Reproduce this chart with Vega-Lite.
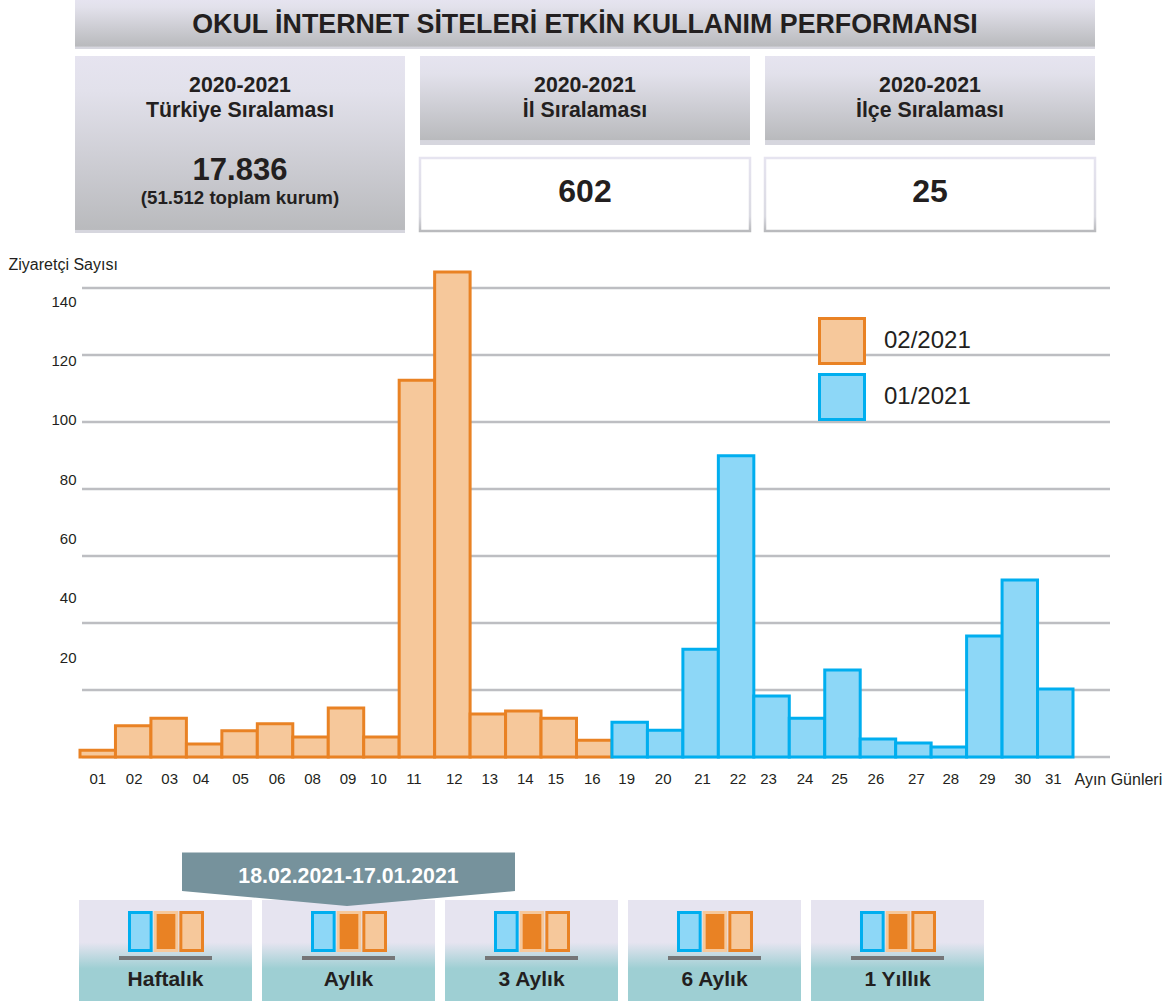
{
"$schema":"https://vega.github.io/schema/vega-lite/v6.json",
"width":1172,"height":1005,"padding":0,"autosize":{"type":"none"},
"background":"white",
"config":{"view":{"stroke":null},"font":"Liberation Sans","text":{"font":"Liberation Sans","color":"#231F20","fontWeight":"bold"}},
"resolve":{"scale":{"x":"independent","y":"independent","fill":"independent","stroke":"independent","color":"independent","xOffset":"independent"},"axis":{"x":"independent","y":"independent"}},
"layer":[
{"data":{"values":[{"baslik":"OKUL İNTERNET SİTELERİ ETKİN KULLANIM PERFORMANSI"}]},
 "mark":{"type":"rect","fill":{"gradient":"linear","x1":0,"y1":0,"x2":0,"y2":1,"stops":[{"offset":0,"color":"#E6E4F0"},{"offset":0.15,"color":"#E2E1EB"},{"offset":0.94,"color":"#B9BABD"},{"offset":0.96,"color":"#D6D6DE"},{"offset":1,"color":"#D6D6DE"}]}},
 "encoding":{"x":{"field":"baslik","type":"nominal","axis":null,"scale":{"type":"band","range":[75,1095],"paddingInner":0,"paddingOuter":0}},
 "y":{"field":"baslik","type":"nominal","axis":null,"scale":{"type":"band","range":[0,49],"paddingInner":0,"paddingOuter":0}}}},
{"data":{"values":[{"baslik":"OKUL İNTERNET SİTELERİ ETKİN KULLANIM PERFORMANSI"}]},
 "mark":{"type":"text","fontSize":26.8,"baseline":"middle"},
 "encoding":{"text":{"field":"baslik"},"x":{"field":"baslik","type":"nominal","axis":null,"scale":{"type":"band","range":[75,1095],"paddingInner":0,"paddingOuter":0}},
 "y":{"field":"baslik","type":"nominal","axis":null,"scale":{"type":"band","range":[0,49],"paddingInner":0,"paddingOuter":0}}}},
{"data":{"values":[{"panel":"Türkiye"}]},
 "mark":{"type":"rect","fill":{"gradient":"linear","x1":0,"y1":0,"x2":0,"y2":1,"stops":[{"offset":0,"color":"#E6E4F0"},{"offset":0.2,"color":"#E2E1EB"},{"offset":0.98,"color":"#B9BABD"},{"offset":0.985,"color":"#D6D6DE"},{"offset":1,"color":"#D6D6DE"}]}},
 "encoding":{"x":{"field":"panel","type":"nominal","axis":null,"scale":{"type":"band","domain":["Türkiye","İl","İlçe"],"range":[75,1095],"paddingInner":0.0435,"paddingOuter":0}},
 "y":{"field":"panel","type":"nominal","axis":null,"scale":{"type":"band","range":[56,233],"paddingInner":0,"paddingOuter":0}}}},
{"data":{"values":[{"panel":"İl"},{"panel":"İlçe"}]},
 "mark":{"type":"rect","fill":{"gradient":"linear","x1":0,"y1":0,"x2":0,"y2":1,"stops":[{"offset":0,"color":"#E6E4F0"},{"offset":0.2,"color":"#E2E1EB"},{"offset":0.94,"color":"#B9BABD"},{"offset":0.95,"color":"#D6D6DE"},{"offset":1,"color":"#D6D6DE"}]}},
 "encoding":{"x":{"field":"panel","type":"nominal","axis":null,"scale":{"type":"band","domain":["Türkiye","İl","İlçe"],"range":[75,1095],"paddingInner":0.0435,"paddingOuter":0}},
 "y":{"datum":"baslik","type":"nominal","axis":null,"scale":{"type":"band","domain":["baslik"],"range":[56,145],"paddingInner":0,"paddingOuter":0}}}},
{"data":{"values":[{"panel":"İl"},{"panel":"İlçe"}]},
 "mark":{"type":"rect","fill":"white","strokeWidth":2.5,"stroke":{"gradient":"linear","x1":0,"y1":0,"x2":0,"y2":1,"stops":[{"offset":0,"color":"#E6E4F0"},{"offset":0.8,"color":"#DADAE2"},{"offset":1,"color":"#B9BABD"}]}},
 "encoding":{"x":{"field":"panel","type":"nominal","axis":null,"scale":{"type":"band","domain":["Türkiye","İl","İlçe"],"range":[75,1095],"paddingInner":0.0435,"paddingOuter":0}},
 "y":{"datum":"deger","type":"nominal","axis":null,"scale":{"type":"band","domain":["deger"],"range":[158,231],"paddingInner":0,"paddingOuter":0}}}},
{"data":{"values":[{"panel":"Türkiye","satir":"yil","metin":"2020-2021"},{"panel":"Türkiye","satir":"ad","metin":"Türkiye Sıralaması"},{"panel":"İl","satir":"yil","metin":"2020-2021"},{"panel":"İl","satir":"ad","metin":"İl Sıralaması"},{"panel":"İlçe","satir":"yil","metin":"2020-2021"},{"panel":"İlçe","satir":"ad","metin":"İlçe Sıralaması"}]},
 "mark":{"type":"text","fontSize":21.3,"baseline":"middle"},
 "encoding":{"text":{"field":"metin"},"x":{"field":"panel","type":"nominal","axis":null,"scale":{"type":"band","domain":["Türkiye","İl","İlçe"],"range":[75,1095],"paddingInner":0.0435,"paddingOuter":0}},
 "y":{"field":"satir","type":"nominal","axis":null,"scale":{"type":"point","domain":["yil","ad"],"range":[86,111],"padding":0}}}},
{"data":{"values":[{"panel":"Türkiye","metin":"17.836"}]},
 "mark":{"type":"text","fontSize":31,"baseline":"middle"},
 "encoding":{"text":{"field":"metin"},"x":{"field":"panel","type":"nominal","axis":null,"scale":{"type":"band","domain":["Türkiye","İl","İlçe"],"range":[75,1095],"paddingInner":0.0435,"paddingOuter":0}},
 "y":{"datum":"sayi","type":"nominal","axis":null,"scale":{"type":"band","domain":["sayi"],"range":[170,172]}}}},
{"data":{"values":[{"panel":"Türkiye","metin":"(51.512 toplam kurum)"}]},
 "mark":{"type":"text","fontSize":18.7,"baseline":"middle"},
 "encoding":{"text":{"field":"metin"},"x":{"field":"panel","type":"nominal","axis":null,"scale":{"type":"band","domain":["Türkiye","İl","İlçe"],"range":[75,1095],"paddingInner":0.0435,"paddingOuter":0}},
 "y":{"datum":"toplam","type":"nominal","axis":null,"scale":{"type":"band","domain":["toplam"],"range":[197,199]}}}},
{"data":{"values":[{"panel":"İl","metin":"602"},{"panel":"İlçe","metin":"25"}]},
 "mark":{"type":"text","fontSize":32,"baseline":"middle"},
 "encoding":{"text":{"field":"metin"},"x":{"field":"panel","type":"nominal","axis":null,"scale":{"type":"band","domain":["Türkiye","İl","İlçe"],"range":[75,1095],"paddingInner":0.0435,"paddingOuter":0}},
 "y":{"datum":"sira","type":"nominal","axis":null,"scale":{"type":"band","domain":["sira"],"range":[191,193]}}}},
{"data":{"values":[{"cizgi":0},{"cizgi":20},{"cizgi":40},{"cizgi":60},{"cizgi":80},{"cizgi":100},{"cizgi":120},{"cizgi":140}]},
 "mark":{"type":"rule","stroke":"#BDBEC2","strokeWidth":2.5},
 "encoding":{"x":{"datum":0,"type":"quantitative","axis":null,"scale":{"domain":[0,1],"range":[82,1110]}},"x2":{"datum":1},
 "y":{"field":"cizgi","type":"quantitative","axis":null,"scale":{"domain":[0,145],"range":[757,271.25],"nice":false,"zero":false}}}},
{"data":{"values":[{"etiket":20},{"etiket":40},{"etiket":60},{"etiket":80},{"etiket":100},{"etiket":120},{"etiket":140}]},
 "mark":{"type":"point","opacity":0},
 "encoding":{"x":{"datum":0,"type":"quantitative","axis":null,"scale":{"domain":[0,1],"range":[82,1110]}},
 "y":{"field":"etiket","type":"quantitative","scale":{"domain":[20,140],"range":[657,301],"nice":false,"zero":false},
 "axis":{"values":[20,40,60,80,100,120,140],"domain":false,"ticks":false,"grid":false,"offset":-76,"labelPadding":0,"labelFontSize":15,"labelColor":"#231F20","labelFont":"Liberation Sans","title":"Ziyaretçi Sayısı","titleFont":"Liberation Sans","titleFontSize":16,"titleFontWeight":"normal","titleColor":"#231F20","titleAngle":0,"titleAlign":"left","titleBaseline":"middle","titleX":-68,"titleY":264}}}},
{"data":{"values":[
{"gun":"01","ziyaretci":2,"ay":"02/2021"},{"gun":"02","ziyaretci":9.3,"ay":"02/2021"},{"gun":"03","ziyaretci":11.6,"ay":"02/2021"},{"gun":"04","ziyaretci":3.9,"ay":"02/2021"},{"gun":"05","ziyaretci":7.8,"ay":"02/2021"},{"gun":"06","ziyaretci":9.9,"ay":"02/2021"},{"gun":"08","ziyaretci":6,"ay":"02/2021"},{"gun":"09","ziyaretci":14.6,"ay":"02/2021"},{"gun":"10","ziyaretci":6,"ay":"02/2021"},{"gun":"11","ziyaretci":112.5,"ay":"02/2021"},{"gun":"12","ziyaretci":144.8,"ay":"02/2021"},{"gun":"13","ziyaretci":12.8,"ay":"02/2021"},{"gun":"14","ziyaretci":13.7,"ay":"02/2021"},{"gun":"15","ziyaretci":11.6,"ay":"02/2021"},{"gun":"16","ziyaretci":5,"ay":"02/2021"},
{"gun":"19","ziyaretci":10.4,"ay":"01/2021"},{"gun":"20","ziyaretci":8,"ay":"01/2021"},{"gun":"21","ziyaretci":32.2,"ay":"01/2021"},{"gun":"22","ziyaretci":89.9,"ay":"01/2021"},{"gun":"23","ziyaretci":18.2,"ay":"01/2021"},{"gun":"24","ziyaretci":11.6,"ay":"01/2021"},{"gun":"25","ziyaretci":26,"ay":"01/2021"},{"gun":"26","ziyaretci":5.4,"ay":"01/2021"},{"gun":"27","ziyaretci":4.2,"ay":"01/2021"},{"gun":"28","ziyaretci":3,"ay":"01/2021"},{"gun":"29","ziyaretci":36.1,"ay":"01/2021"},{"gun":"30","ziyaretci":52.8,"ay":"01/2021"},{"gun":"31","ziyaretci":20.3,"ay":"01/2021"}]},
 "mark":{"type":"bar","strokeWidth":3,"strokeJoin":"miter"},
 "encoding":{
 "x":{"field":"gun","type":"nominal","sort":null,"scale":{"type":"band","range":[80,1073],"paddingInner":0,"paddingOuter":0},
  "axis":{"title":"Ayın Günleri","titleFont":"Liberation Sans","titleFontSize":16,"titleFontWeight":"normal","titleColor":"#231F20","titleAlign":"left","titleAnchor":"start","titleBaseline":"middle","titleX":1074,"titleY":22,"offset":-248,"domain":false,"ticks":false,"grid":false,"labelAngle":0,"labelPadding":14,"labelFontSize":15,"labelColor":"#231F20","labelFont":"Liberation Sans",
  "encoding":{"labels":{"dx":{"value":{"expr":"({'02':1,'03':1,'04':-3,'05':1,'06':2,'08':2,'09':2,'10':-3,'11':-3,'12':2,'13':2,'14':2,'15':-3,'16':-2,'19':-3,'20':-2,'21':2,'22':2,'23':-3,'24':-2,'25':-3,'26':-2,'27':3,'28':2,'29':3,'30':3,'31':-2})[datum.value]||0"}}}}}},
 "y":{"field":"ziyaretci","type":"quantitative","axis":null,"scale":{"domain":[0,145],"range":[757,271.25],"nice":false,"zero":false}},
 "fill":{"field":"ay","type":"nominal","scale":{"domain":["02/2021","01/2021"],"range":["#F6C89B","#8DD7F7"]},
  "legend":{"orient":"none","legendX":818,"legendY":317,"title":null,"symbolType":"square","symbolSize":2025,"symbolStrokeWidth":3,"labelFontSize":24,"labelFont":"Liberation Sans","labelColor":"#231F20","labelOffset":18,"rowPadding":-2}},
 "stroke":{"field":"ay","type":"nominal","scale":{"domain":["02/2021","01/2021"],"range":["#E98224","#00AEEF"]},"legend":{"orient":"none","legendX":818,"legendY":317,"title":null,"symbolType":"square","symbolSize":2025,"symbolStrokeWidth":3,"labelFontSize":24,"labelFont":"Liberation Sans","labelColor":"#231F20","labelOffset":18,"rowPadding":-2}}}},
{"data":{"values":[{"sure":"Haftalık"},{"sure":"Aylık"},{"sure":"3 Aylık"},{"sure":"6 Aylık"},{"sure":"1 Yıllık"}]},
 "mark":{"type":"rect","fill":{"gradient":"linear","x1":0,"y1":0,"x2":0,"y2":1,"stops":[{"offset":0,"color":"#E6E4F0"},{"offset":0.42,"color":"#E6E4F0"},{"offset":0.68,"color":"#9ECFD3"},{"offset":1,"color":"#9ECFD3"}]}},
 "encoding":{"x":{"field":"sure","type":"nominal","sort":null,"axis":null,"scale":{"type":"band","range":[79,984],"paddingInner":0.0546,"paddingOuter":0}},
 "y":{"datum":"dugme","type":"nominal","axis":null,"scale":{"type":"band","domain":["dugme"],"range":[900,1001],"paddingInner":0,"paddingOuter":0}}}},
{"data":{"values":[{"sure":"Haftalık","ikon":"a"},{"sure":"Haftalık","ikon":"b"},{"sure":"Haftalık","ikon":"c"},{"sure":"Aylık","ikon":"a"},{"sure":"Aylık","ikon":"b"},{"sure":"Aylık","ikon":"c"},{"sure":"3 Aylık","ikon":"a"},{"sure":"3 Aylık","ikon":"b"},{"sure":"3 Aylık","ikon":"c"},{"sure":"6 Aylık","ikon":"a"},{"sure":"6 Aylık","ikon":"b"},{"sure":"6 Aylık","ikon":"c"},{"sure":"1 Yıllık","ikon":"a"},{"sure":"1 Yıllık","ikon":"b"},{"sure":"1 Yıllık","ikon":"c"}]},
 "mark":{"type":"bar","strokeWidth":3},
 "encoding":{"x":{"field":"sure","type":"nominal","sort":null,"axis":null,"scale":{"type":"band","range":[79,984],"paddingInner":0.0546,"paddingOuter":0}},
 "xOffset":{"field":"ikon","type":"nominal","scale":{"domain":["a","b","c"],"range":[50.5,123.5],"paddingInner":0.156,"paddingOuter":0}},
 "y":{"datum":"ikon","type":"nominal","axis":null,"scale":{"type":"band","domain":["ikon"],"range":[912.5,950.5],"paddingInner":0,"paddingOuter":0}},
 "fill":{"field":"ikon","type":"nominal","legend":null,"scale":{"domain":["a","b","c"],"range":["#8DD7F7","#E98224","#F6C89B"]}},
 "stroke":{"field":"ikon","type":"nominal","legend":null,"scale":{"domain":["a","b","c"],"range":["#00AEEF","#F6C89B","#E98224"]}}}},
{"data":{"values":[{"sure":"Haftalık"},{"sure":"Aylık"},{"sure":"3 Aylık"},{"sure":"6 Aylık"},{"sure":"1 Yıllık"}]},
 "mark":{"type":"bar","width":93,"fill":"#757678"},
 "encoding":{"x":{"field":"sure","type":"nominal","sort":null,"axis":null,"scale":{"type":"band","range":[79,984],"paddingInner":0.0546,"paddingOuter":0}},
 "y":{"datum":"taban","type":"nominal","axis":null,"scale":{"type":"band","domain":["taban"],"range":[956,960],"paddingInner":0,"paddingOuter":0}}}},
{"data":{"values":[{"sure":"Haftalık"},{"sure":"Aylık"},{"sure":"3 Aylık"},{"sure":"6 Aylık"},{"sure":"1 Yıllık"}]},
 "mark":{"type":"text","fontSize":21,"baseline":"middle"},
 "encoding":{"text":{"field":"sure"},"x":{"field":"sure","type":"nominal","sort":null,"axis":null,"scale":{"type":"band","range":[79,984],"paddingInner":0.0546,"paddingOuter":0}},
 "y":{"datum":"etiket","type":"nominal","axis":null,"scale":{"type":"band","domain":["etiket"],"range":[979,981]}}}},
{"data":{"values":[{"sure":"Aylık","aralik":"18.02.2021-17.01.2021"}]},
 "mark":{"type":"point","filled":true,"opacity":1,"fill":"#76929C","stroke":null,"size":4,"shape":"M-166.5 -26.5 L166.5 -26.5 L166.5 12 L-1.5 27 L-166.5 12 Z"},
 "encoding":{"x":{"field":"sure","type":"nominal","axis":null,"scale":{"type":"band","domain":["Haftalık","Aylık","3 Aylık","6 Aylık","1 Yıllık"],"range":[79,984],"paddingInner":0.0546,"paddingOuter":0}},
 "y":{"datum":"ok","type":"nominal","axis":null,"scale":{"type":"band","domain":["ok"],"range":[878,880]}}}},
{"data":{"values":[{"sure":"Aylık","aralik":"18.02.2021-17.01.2021"}]},
 "mark":{"type":"text","fontSize":21.3,"baseline":"middle","fill":"#FFFFFF"},
 "encoding":{"text":{"field":"aralik"},"x":{"field":"sure","type":"nominal","axis":null,"scale":{"type":"band","domain":["Haftalık","Aylık","3 Aylık","6 Aylık","1 Yıllık"],"range":[79,984],"paddingInner":0.0546,"paddingOuter":0}},
 "y":{"datum":"ok","type":"nominal","axis":null,"scale":{"type":"band","domain":["ok"],"range":[875.5,877.5]}}}}
]}
